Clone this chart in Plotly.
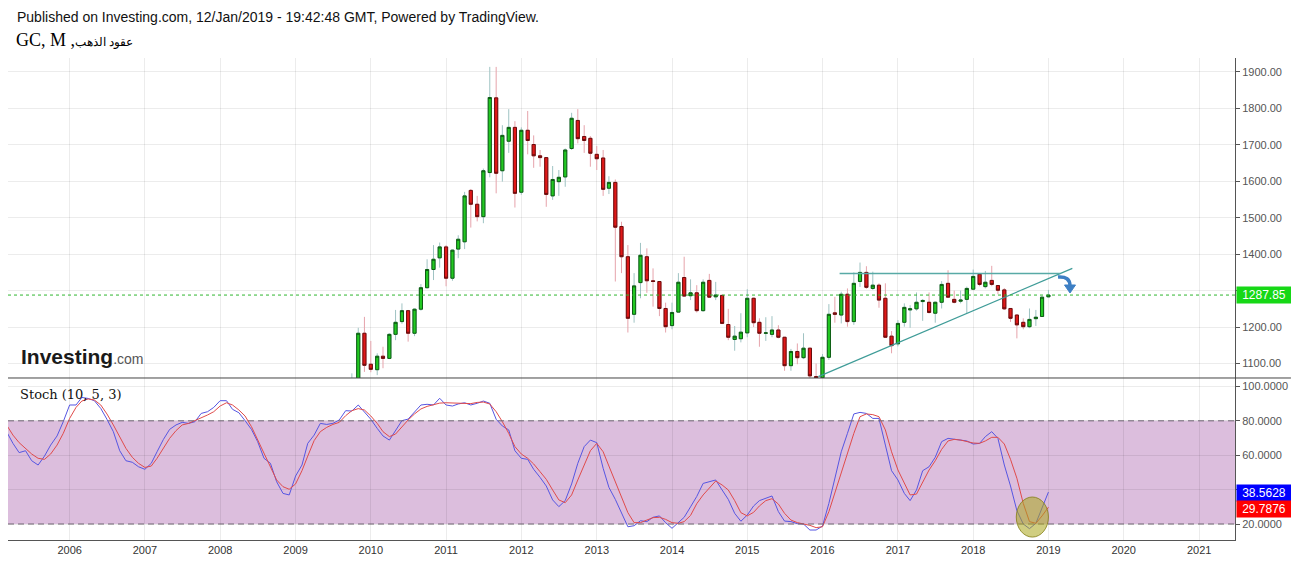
import pandas as pd
import plotly.graph_objects as go

# ---- monthly GC candles, Oct 2009 .. Jan 2019 ----
c_open = [1008, 1040, 1183,
          1098, 1083, 1120, 1114, 1180, 1215, 1245, 1183, 1249, 1308, 1358, 1390,
          1420, 1334, 1414, 1434, 1575, 1537, 1503, 1624, 1829, 1629, 1710, 1748,
          1570, 1740, 1701, 1670, 1665, 1560, 1599, 1612, 1690, 1767, 1723, 1718,
          1674, 1664, 1581, 1597, 1476, 1393, 1235, 1322, 1393, 1327, 1325, 1251,
          1204, 1241, 1336, 1286, 1294, 1245, 1328, 1283, 1287, 1207, 1166, 1168,
          1184, 1279, 1213, 1183, 1180, 1192, 1172, 1094, 1133, 1116, 1142, 1064,
          1061, 1117, 1239, 1233, 1290, 1215, 1325, 1350, 1306, 1315, 1279, 1175,
          1154, 1213, 1247, 1250, 1270, 1268, 1238, 1268, 1320, 1276, 1271, 1276,
          1304, 1345, 1311, 1328, 1314, 1302, 1251, 1233, 1213, 1201, 1223, 1229,
          1283]
c_high = [1073, 1198, 1228,
          1162, 1128, 1146, 1183, 1247, 1265, 1247, 1251, 1318, 1386, 1425, 1432,
          1425, 1413, 1452, 1571, 1579, 1560, 1635, 1914, 1914, 1754, 1798, 1765,
          1748, 1793, 1726, 1686, 1666, 1642, 1631, 1690, 1788, 1798, 1754, 1724,
          1697, 1686, 1614, 1605, 1489, 1425, 1348, 1431, 1416, 1361, 1326, 1267,
          1267, 1348, 1393, 1331, 1315, 1331, 1346, 1324, 1288, 1250, 1203, 1238,
          1304, 1281, 1224, 1227, 1230, 1205, 1173, 1140, 1155, 1183, 1143, 1100,
          1126, 1263, 1283, 1297, 1306, 1350, 1377, 1367, 1352, 1320, 1320, 1189,
          1219, 1265, 1260, 1295, 1277, 1295, 1270, 1326, 1356, 1300, 1300, 1311,
          1358, 1346, 1354, 1368, 1315, 1307, 1251, 1234, 1224, 1251, 1247, 1285,
          1302]
c_low = [1003, 1040, 1077,
         1076, 1068, 1087, 1112, 1164, 1209, 1160, 1175, 1245, 1306, 1329, 1363,
         1312, 1327, 1389, 1414, 1473, 1490, 1485, 1611, 1567, 1599, 1678, 1528,
         1563, 1674, 1637, 1640, 1530, 1549, 1560, 1585, 1686, 1704, 1678, 1640,
         1631, 1560, 1565, 1325, 1348, 1185, 1212, 1279, 1294, 1256, 1230, 1185,
         1194, 1240, 1283, 1274, 1240, 1242, 1280, 1274, 1208, 1164, 1135, 1158,
         1172, 1200, 1146, 1162, 1172, 1169, 1080, 1080, 1098, 1112, 1052, 1046,
         1060, 1110, 1212, 1210, 1201, 1206, 1310, 1305, 1302, 1253, 1170, 1128,
         1147, 1201, 1198, 1245, 1217, 1237, 1212, 1251, 1280, 1265, 1265, 1238,
         1303, 1312, 1306, 1312, 1290, 1247, 1214, 1169, 1194, 1197, 1203, 1228,
         1281]
c_close = [1040, 1183, 1095,
           1084, 1120, 1114, 1180, 1213, 1245, 1183, 1249, 1308, 1358, 1386, 1420,
           1334, 1411, 1441, 1560, 1537, 1503, 1629, 1830, 1622, 1726, 1748, 1567,
           1740, 1712, 1670, 1665, 1564, 1605, 1611, 1686, 1773, 1717, 1712, 1677,
           1662, 1578, 1597, 1474, 1393, 1224, 1313, 1397, 1327, 1325, 1251, 1201,
           1240, 1323, 1285, 1294, 1245, 1323, 1282, 1288, 1210, 1172, 1175, 1186,
           1279, 1212, 1183, 1184, 1192, 1172, 1094, 1133, 1116, 1142, 1066, 1061,
           1117, 1235, 1235, 1290, 1215, 1320, 1350, 1309, 1315, 1274, 1172, 1149,
           1210, 1254, 1250, 1268, 1273, 1240, 1268, 1317, 1282, 1268, 1274, 1306,
           1339, 1317, 1323, 1317, 1301, 1250, 1224, 1206, 1201, 1221, 1227, 1282,
           1287.85]
candle_dates = pd.date_range("2009-10-01", periods=len(c_close), freq="MS")

# ---- Stoch (10, 5, 3), Mar 2005 .. Jan 2019 ----
stoch_k = [73.7, 66.9, 61.5, 62.6, 56.8, 54.3, 59.5, 65.9, 71.2, 79.5,
           89.2, 89.2, 93.6, 93.0, 91.7, 87.2, 80.9, 73.7, 62.6, 56.8, 55.9, 53.3,
           51.8, 55.3, 62.0, 69.2, 75.0, 77.6, 79.1, 78.5, 79.5, 84.3, 85.3, 87.8,
           91.7, 91.7, 86.7, 84.7, 80.1, 75.0, 67.9, 58.2, 55.3, 44.6, 37.8, 36.9,
           47.9, 54.3, 66.9, 71.7, 78.5, 77.9, 78.5, 80.5, 85.9, 85.7, 89.2, 85.3,
           80.9, 75.6, 71.2, 68.8, 74.3, 80.1, 81.0, 85.3, 89.2, 89.6, 89.2, 93.1,
           89.2, 88.6, 89.8, 90.5, 89.2, 90.2, 91.5, 90.2, 80.9, 77.0, 74.7, 62.6,
           58.2, 57.6, 51.8, 47.1, 42.1, 34.0, 30.1, 33.6, 43.3, 55.3, 65.0, 68.8,
           67.3, 52.4, 41.3, 34.3, 26.2, 18.4, 19.0, 21.9, 21.4, 23.9, 24.7, 20.8,
           17.5, 20.8, 23.9, 30.0, 36.0, 43.6, 44.6, 45.6, 39.8, 34.3, 26.2, 21.6,
           25.2, 30.5, 33.6, 35.1, 36.3, 27.2, 21.7, 21.4, 20.2, 20.0, 16.5, 16.5,
           18.8, 32.0, 46.6, 62.0, 72.7, 84.0, 84.9, 84.3, 81.4, 81.4, 65.9, 51.0,
           45.6, 37.8, 33.6, 39.8, 51.0, 53.3, 58.8, 67.9, 69.8, 69.2, 68.8, 68.3,
           66.5, 66.9, 70.8, 73.7, 69.8, 54.3, 42.1, 27.8, 20.0, 17.3, 20.4, 29.5,
           38.5628]
stoch_d = [77.6, 71.7, 67.3, 64.0, 60.7, 58.2, 57.6, 60.7, 65.9, 72.7,
           81.4, 87.8, 91.5, 92.7, 92.1, 89.2, 84.0, 77.6, 70.8, 64.0, 58.8, 55.3,
           52.9, 53.7, 58.2, 64.0, 69.8, 74.3, 77.6, 78.5, 80.1, 82.0, 83.4, 85.3,
           88.6, 90.5, 89.2, 86.3, 82.8, 76.6, 68.8, 61.1, 53.3, 45.6, 41.7, 40.2,
           43.3, 51.0, 59.5, 68.5, 73.7, 76.2, 77.9, 79.1, 83.0, 85.9, 87.1, 86.3,
           82.8, 78.5, 73.7, 70.8, 72.3, 76.6, 80.5, 84.0, 86.9, 88.4, 89.4, 90.3,
           90.5, 90.3, 90.0, 89.8, 90.0, 90.7, 90.9, 89.8, 85.3, 79.5, 72.7, 65.0,
           60.7, 58.2, 54.9, 50.4, 46.0, 39.8, 34.0, 32.4, 36.9, 45.6, 54.3, 62.6,
           66.9, 62.0, 53.7, 44.6, 34.9, 26.6, 20.8, 20.8, 22.3, 23.7, 23.9, 22.7,
           20.8, 20.4, 21.4, 25.0, 31.8, 36.9, 40.9, 45.0, 42.7, 39.8, 33.6, 26.6,
           24.7, 26.8, 30.5, 33.6, 34.7, 31.6, 26.2, 22.3, 20.8, 20.0, 19.2, 17.9,
           18.4, 27.2, 38.2, 49.1, 60.1, 72.7, 82.4, 84.0, 83.6, 82.4, 74.7, 62.0,
           51.4, 43.3, 36.9, 37.4, 44.6, 51.4, 56.8, 63.4, 68.3, 69.2, 68.8, 68.1,
           67.1, 66.9, 68.3, 70.4, 70.4, 66.5, 57.6, 46.6, 32.0, 21.4, 20.4, 24.7,
           29.7876]
stoch_dates = pd.date_range("2005-03-01", periods=len(stoch_k), freq="MS")

last_price = 1287.85
price_ticks = [1100, 1200, 1300, 1400, 1500, 1600, 1700, 1800, 1900]
price_labels = ["1100.00", "1200.00", "", "1400.00", "1500.00", "1600.00", "1700.00", "1800.00", "1900.00"]
stoch_ticks = [20, 40, 60, 80, 100]
stoch_labels = ["20.0000", "", "60.0000", "80.0000", "100.0000"]
band = [20, 80]

# hand drawn trendlines on the chart
rise_x = ["2015-12-12", "2019-04-27"]
rise_y = [1064, 1361]
flat_x = ["2016-03-24", "2019-02-28"]
flat_y = [1347, 1347]
circle_x = ["2018-07-29", "2019-01-01"]
circle_y = [12.4, 35.7]

split = 0.3361  # bottom panel share of the plot height

# page pixel -> paper (the page body adds an 8px offset, figure is sized for it)
px = lambda p: (p - 8) / 1227.0
py = lambda p: (540 - p) / 482.0

body_lo = [min(o, c) for o, c in zip(c_open, c_close)]
body_hi = [max(o, c) for o, c in zip(c_open, c_close)]

fig = go.Figure()

# wicks (light colour), then bodies on top with dark borders
fig.add_trace(go.Candlestick(x=candle_dates, open=c_open, high=c_high, low=c_low, close=c_close,
                             increasing=dict(line=dict(color="#9fc3c3", width=1), fillcolor="#9fc3c3"),
                             decreasing=dict(line=dict(color="#e6a3ab", width=1), fillcolor="#e6a3ab"),
                             whiskerwidth=0, showlegend=False, hoverinfo="skip", xaxis="x", yaxis="y"))
fig.add_trace(go.Candlestick(x=candle_dates, open=c_open, high=body_hi, low=body_lo, close=c_close,
                             increasing=dict(line=dict(color="#0d5c12", width=1), fillcolor="#22c922"),
                             decreasing=dict(line=dict(color="#6a0c0c", width=1), fillcolor="#e01818"),
                             whiskerwidth=0, showlegend=False, hoverinfo="skip", xaxis="x", yaxis="y"))

fig.add_trace(go.Scatter(x=rise_x, y=rise_y, mode="lines", line=dict(color="#3f9c98", width=1.2),
                         showlegend=False, hoverinfo="skip", xaxis="x", yaxis="y"))
fig.add_trace(go.Scatter(x=flat_x, y=flat_y, mode="lines", line=dict(color="#58aaa6", width=1.5),
                         showlegend=False, hoverinfo="skip", xaxis="x", yaxis="y"))

fig.add_trace(go.Scatter(x=stoch_dates, y=stoch_k, mode="lines", line=dict(color="#5656e2", width=1),
                         showlegend=False, hoverinfo="skip", xaxis="x", yaxis="y2"))
fig.add_trace(go.Scatter(x=stoch_dates, y=stoch_d, mode="lines", line=dict(color="#e04b4b", width=1),
                         showlegend=False, hoverinfo="skip", xaxis="x", yaxis="y2"))

# curved "turn down" arrow next to the apex of the triangle
arrow_path = "M {:.5f},{:.5f} Q {:.5f},{:.5f} {:.5f},{:.5f}".format(
    px(1058), py(277), px(1070), py(276), px(1070), py(286))
arrow_head = "M {:.5f},{:.5f} L {:.5f},{:.5f} L {:.5f},{:.5f} Z".format(
    px(1064.5), py(285), px(1075.5), py(285), px(1070), py(293))

shapes = [
    dict(type="rect", xref="paper", yref="y2", x0=0, x1=1, y0=band[0], y1=band[1],
         fillcolor="#dcbedd", line=dict(width=0), layer="below"),
    dict(type="line", xref="paper", yref="y2", x0=0, x1=1, y0=band[0], y1=band[0],
         line=dict(color="#6e6470", width=1, dash="6px,4px")),
    dict(type="line", xref="paper", yref="y2", x0=0, x1=1, y0=band[1], y1=band[1],
         line=dict(color="#6e6470", width=1, dash="6px,4px")),
    dict(type="line", xref="paper", yref="y", x0=0, x1=1, y0=last_price, y1=last_price,
         line=dict(color="#2fb52f", width=1, dash="dot")),
    dict(type="line", xref="paper", yref="paper", x0=0, x1=1.0456, y0=split, y1=split,
         line=dict(color="#444444", width=1)),
    dict(type="circle", xref="x", yref="y2", x0=circle_x[0], x1=circle_x[1], y0=circle_y[0], y1=circle_y[1],
         fillcolor="rgba(170,165,25,0.55)", line=dict(color="rgba(130,125,20,0.8)", width=1)),
    dict(type="path", xref="paper", yref="paper", path=arrow_path,
         line=dict(color="#3d7fc4", width=3.5)),
    dict(type="path", xref="paper", yref="paper", path=arrow_head,
         fillcolor="#3d7fc4", line=dict(color="#3d7fc4", width=1)),
]

annotations = [
    dict(text="Published on Investing.com, 12/Jan/2019 - 19:42:48 GMT, Powered by TradingView.",
         xref="paper", yref="paper", x=px(15), y=py(17), xanchor="left", yanchor="middle", showarrow=False,
         font=dict(family="Liberation Sans", size=14, color="#111111")),
    dict(text="GC, M ,<span style='font-size:12px'>عقود الذهب</span>",
         xref="paper", yref="paper", x=px(14), y=py(40), xanchor="left", yanchor="middle", showarrow=False,
         font=dict(family="Liberation Serif", size=18, color="#000000")),
    dict(text="<b>Investing</b><span style='font-size:14px;color:#555555'>.com</span>",
         xref="paper", yref="paper", x=px(19), y=py(356), xanchor="left", yanchor="middle", showarrow=False,
         font=dict(family="Liberation Sans", size=21, color="#1a1a1a")),
    dict(text="Stoch (10, 5, 3)",
         xref="paper", yref="paper", x=px(18), y=py(394), xanchor="left", yanchor="middle", showarrow=False,
         font=dict(family="DejaVu Serif", size=13, color="#111111")),
    dict(text="1287.85", xref="paper", yref="y", x=1.0008, y=last_price, xanchor="left", yanchor="middle",
         showarrow=False, bgcolor="#16d816", borderpad=1, width=52,
         font=dict(family="Liberation Sans", size=12, color="#ffffff")),
    dict(text="38.5628", xref="paper", yref="paper", x=1.0008, y=py(493), xanchor="left", yanchor="middle",
         showarrow=False, bgcolor="#0000ff", borderpad=1, width=52,
         font=dict(family="Liberation Sans", size=12, color="#ffffff")),
    dict(text="29.7876", xref="paper", yref="paper", x=1.0008, y=py(509), xanchor="left", yanchor="middle",
         showarrow=False, bgcolor="#ff0000", borderpad=1, width=52,
         font=dict(family="Liberation Sans", size=12, color="#ffffff")),
]

fig.update_layout(
    width=1291, height=555,
    margin=dict(l=0, r=64, t=50, b=23),
    paper_bgcolor="white", plot_bgcolor="white",
    showlegend=False, boxgap=0.22,
    xaxis=dict(type="date", range=["2005-03-08", "2021-06-24"], anchor="y2",
               tick0="2006-01-01", dtick="M12", tickformat="%Y",
               showgrid=True, gridcolor="rgba(0,0,0,0.075)", zeroline=False,
               showline=True, linecolor="#555555", ticks="",
               tickfont=dict(family="Liberation Sans", size=11, color="#333333"),
               rangeslider=dict(visible=False)),
    yaxis=dict(domain=[split, 1], range=[1060.2, 1938.4], side="right", anchor="x",
               tickvals=price_ticks, ticktext=price_labels, ticks="outside", ticklen=4, tickcolor="#555555",
               showline=True, linecolor="#555555", showgrid=True, gridcolor="rgba(0,0,0,0.075)", zeroline=False,
               tickfont=dict(family="Liberation Sans", size=11, color="#555555")),
    yaxis2=dict(domain=[0, split], range=[10.7, 104.9], side="right", anchor="x",
                tickvals=stoch_ticks, ticktext=stoch_labels, ticks="outside", ticklen=4, tickcolor="#555555",
                showline=True, linecolor="#555555", showgrid=True, gridcolor="rgba(0,0,0,0.075)", zeroline=False,
                tickfont=dict(family="Liberation Sans", size=11, color="#555555")),
    shapes=shapes,
    annotations=annotations,
)

fig.write_html("out.html")
